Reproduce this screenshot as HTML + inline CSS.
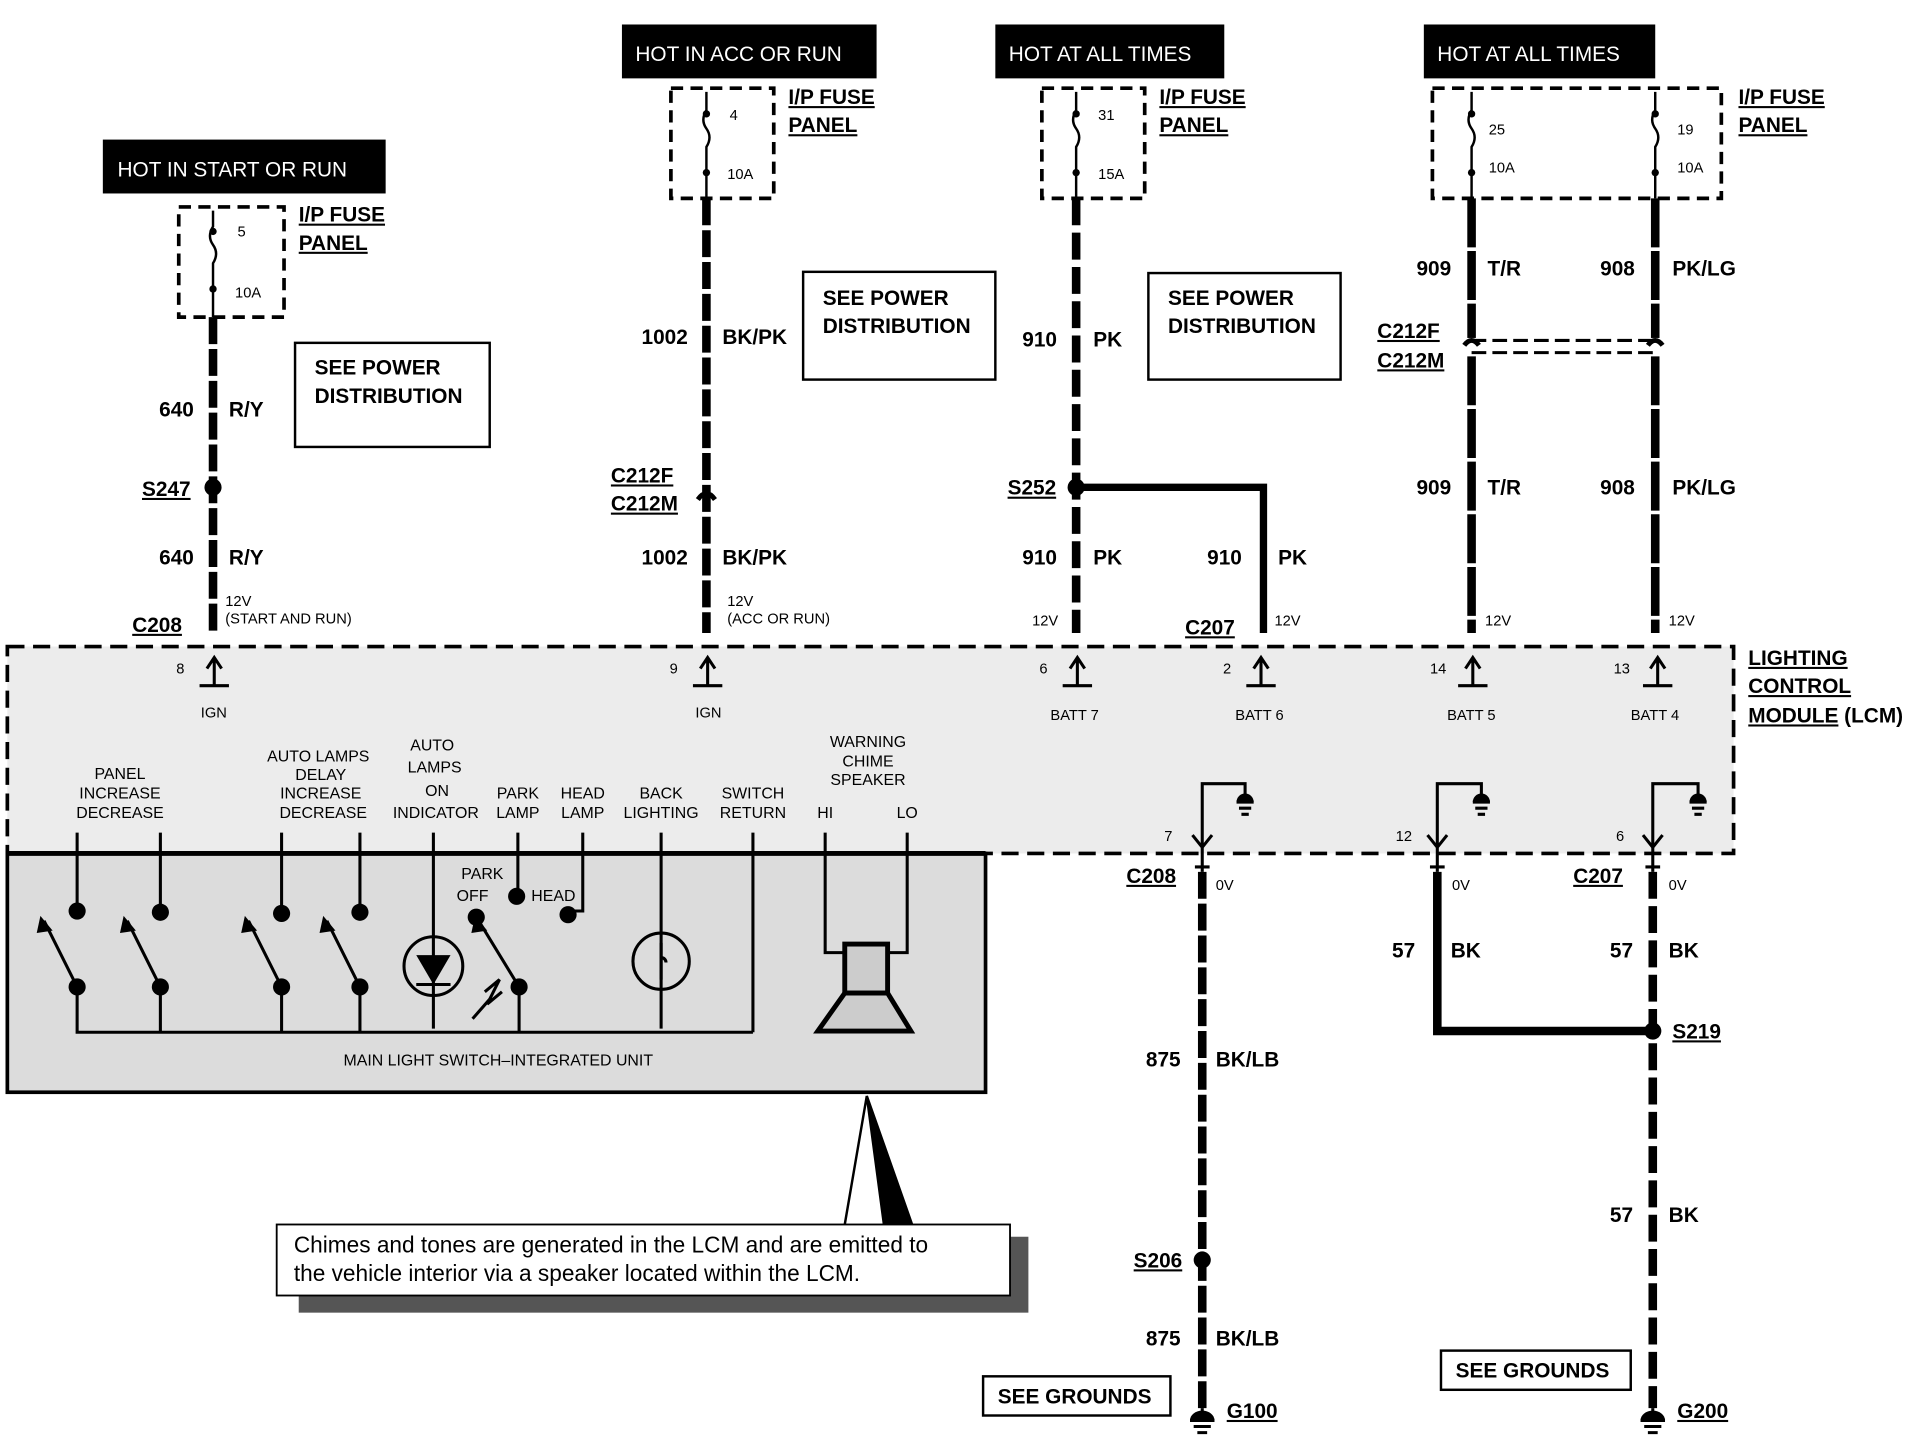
<!DOCTYPE html>
<html><head><meta charset="utf-8"><style>
html,body{margin:0;padding:0;background:#fff;}
svg{display:block;}
text{font-family:"Liberation Sans",Arial,sans-serif;font-weight:bold;fill:#000;}
.s{font-size:12px;font-weight:normal;}
.m{font-size:17px;}
.w{fill:#fff;font-size:17px;font-weight:normal;}
.u{text-decoration:underline;}
</style></head><body>
<svg width="1916" height="1440" viewBox="0 0 1565 1176" preserveAspectRatio="none" xmlns="http://www.w3.org/2000/svg">
<rect width="1565" height="1176" fill="#fff"/>
<!-- LCM area -->
<rect x="6" y="528" width="1410" height="169" fill="#ececec"/>
<rect x="6" y="528" width="1410" height="169" fill="none" stroke="#000" stroke-width="3" stroke-dasharray="14,7"/>
<rect x="6" y="697" width="799" height="195" fill="#dcdcdc" stroke="#000" stroke-width="3"/>
<line x1="6" y1="697" x2="805" y2="697" stroke="#000" stroke-width="4"/>

<!-- headers -->
<rect x="84" y="114" width="231" height="44" fill="#000"/><text class="w" x="96" y="144">HOT IN START OR RUN</text>
<rect x="508" y="20" width="208" height="44" fill="#000"/><text class="w" x="519" y="50">HOT IN ACC OR RUN</text>
<rect x="813" y="20" width="187" height="44" fill="#000"/><text class="w" x="824" y="50">HOT AT ALL TIMES</text>
<rect x="1163" y="20" width="189" height="44" fill="#000"/><text class="w" x="1174" y="50">HOT AT ALL TIMES</text>

<!-- fuse boxes -->
<g fill="none" stroke="#000" stroke-width="3" stroke-dasharray="10,6">
<rect x="146" y="169" width="86" height="90"/>
<rect x="548" y="72" width="84" height="90"/>
<rect x="851" y="72" width="84" height="90"/>
<rect x="1170" y="72" width="236" height="90"/>
</g>
<g class="m">
<text class="m u" x="244" y="181">I/P FUSE</text><text class="m u" x="244" y="204">PANEL</text>
<text class="m u" x="644" y="85">I/P FUSE</text><text class="m u" x="644" y="108">PANEL</text>
<text class="m u" x="947" y="85">I/P FUSE</text><text class="m u" x="947" y="108">PANEL</text>
<text class="m u" x="1420" y="85">I/P FUSE</text><text class="m u" x="1420" y="108">PANEL</text>
</g>
<!-- fuses -->
<g fill="none" stroke="#000" stroke-width="2">
<path d="M174 172 V185 q-5 8 0 15 q5 7 0 15 V259"/>
<path d="M577 75 V90 q-5 8 0 15 q5 7 0 15 V162"/>
<path d="M879 75 V90 q-5 8 0 15 q5 7 0 15 V162"/>
<path d="M1202 75 V90 q-5 8 0 15 q5 7 0 15 V162"/>
<path d="M1352 75 V90 q-5 8 0 15 q5 7 0 15 V162"/>
</g>
<g fill="#000"><circle cx="174" cy="189" r="3"/><circle cx="174" cy="236" r="3"/>
<circle cx="577" cy="93" r="3"/><circle cx="577" cy="141" r="3"/>
<circle cx="879" cy="93" r="3"/><circle cx="879" cy="141" r="3"/>
<circle cx="1202" cy="93" r="3"/><circle cx="1202" cy="141" r="3"/>
<circle cx="1352" cy="93" r="3"/><circle cx="1352" cy="141" r="3"/></g>
<g class="s">
<text class="s" x="194" y="193">5</text><text class="s" x="192" y="243">10A</text>
<text class="s" x="596" y="98">4</text><text class="s" x="594" y="146">10A</text>
<text class="s" x="897" y="98">31</text><text class="s" x="897" y="146">15A</text>
<text class="s" x="1216" y="110">25</text><text class="s" x="1216" y="141">10A</text>
<text class="s" x="1370" y="110">19</text><text class="s" x="1370" y="141">10A</text>
</g>

<!-- wires -->
<g stroke="#000" stroke-width="7" fill="none">
<line x1="174" y1="259" x2="174" y2="517" stroke-dasharray="22,4"/>
<line x1="577" y1="162" x2="577" y2="517" stroke-dasharray="22,4"/>
<line x1="879" y1="162" x2="879" y2="517" stroke-dasharray="22,6"/>
<line x1="1202" y1="162" x2="1202" y2="517" stroke-dasharray="40,3"/>
<line x1="1352" y1="162" x2="1352" y2="517" stroke-dasharray="40,3"/>
<path d="M879 398 H1032 V517" stroke-width="6"/>
<line x1="982" y1="712" x2="982" y2="1150" stroke-dasharray="22,4"/>
<path d="M1174 712 V842 H1350" stroke-width="7"/>
<line x1="1350" y1="712" x2="1350" y2="1150" stroke-dasharray="22,6"/>
</g>
<g fill="#fff" stroke="none"><rect x="1195" y="276" width="165" height="14"/></g>
<g stroke="#000" stroke-width="2.5" fill="none" stroke-dasharray="12,5">
<line x1="1202" y1="278" x2="1352" y2="278"/><line x1="1202" y1="288" x2="1352" y2="288"/>
</g>
<g stroke="#000" stroke-width="4" fill="none"><path d="M1196 282 q6-8 12 0"/><path d="M1346 282 q6-8 12 0"/><path d="M570 408 q7-10 14 0"/></g>
<g fill="#000"><circle cx="174" cy="398" r="7"/><circle cx="879" cy="398" r="7"/><circle cx="1350" cy="842" r="7"/><circle cx="982" cy="1029" r="7"/></g>

<!-- wire labels -->
<g class="m">
<text x="130" y="340" class="m">640</text><text x="187" y="340" class="m">R/Y</text>
<text x="130" y="461" class="m">640</text><text x="187" y="461" class="m">R/Y</text>
<text x="116" y="405" class="m u">S247</text>
<text x="524" y="281" class="m">1002</text><text x="590" y="281" class="m">BK/PK</text>
<text x="524" y="461" class="m">1002</text><text x="590" y="461" class="m">BK/PK</text>
<text x="499" y="394" class="m u">C212F</text><text x="499" y="417" class="m u">C212M</text>
<text x="835" y="283" class="m">910</text><text x="893" y="283" class="m">PK</text>
<text x="835" y="461" class="m">910</text><text x="893" y="461" class="m">PK</text>
<text x="986" y="461" class="m">910</text><text x="1044" y="461" class="m">PK</text>
<text x="823" y="404" class="m u">S252</text>
<text x="1157" y="225" class="m">909</text><text x="1215" y="225" class="m">T/R</text>
<text x="1307" y="225" class="m">908</text><text x="1366" y="225" class="m">PK/LG</text>
<text x="1157" y="404" class="m">909</text><text x="1215" y="404" class="m">T/R</text>
<text x="1307" y="404" class="m">908</text><text x="1366" y="404" class="m">PK/LG</text>
<text x="1125" y="276" class="m u">C212F</text><text x="1125" y="300" class="m u">C212M</text>
<text x="108" y="516" class="m u">C208</text>
<text x="968" y="518" class="m u">C207</text>
<text x="920" y="721" class="m u">C208</text>
<text x="1285" y="721" class="m u">C207</text>
<text x="1137" y="782" class="m">57</text><text x="1185" y="782" class="m">BK</text>
<text x="1315" y="782" class="m">57</text><text x="1363" y="782" class="m">BK</text>
<text x="1366" y="848" class="m u">S219</text>
<text x="1315" y="998" class="m">57</text><text x="1363" y="998" class="m">BK</text>
<text x="936" y="871" class="m">875</text><text x="993" y="871" class="m">BK/LB</text>
<text x="936" y="1099" class="m">875</text><text x="993" y="1099" class="m">BK/LB</text>
<text x="926" y="1035" class="m u">S206</text>
<text x="1002" y="1158" class="m u">G100</text>
<text x="1370" y="1158" class="m u">G200</text>
<text x="1428" y="543" class="m u">LIGHTING</text><text x="1428" y="566" class="m u">CONTROL</text>
<text x="1428" y="590" class="m"><tspan class="u" text-decoration="underline">MODULE</tspan> (LCM)</text>
</g>
<g class="s" style="font-size:12px">
<text class="s" x="184" y="495" font-weight="bold">12V</text><text class="s" x="184" y="509">(START AND RUN)</text>
<text class="s" x="594" y="495">12V</text><text class="s" x="594" y="509">(ACC OR RUN)</text>
<text class="s" x="843" y="511">12V</text><text class="s" x="1041" y="511">12V</text>
<text class="s" x="1213" y="511">12V</text><text class="s" x="1363" y="511">12V</text>
<text class="s" x="993" y="727">0V</text><text class="s" x="1186" y="727">0V</text><text class="s" x="1363" y="727">0V</text>
</g>

<!-- power dist boxes -->
<g fill="#fff" stroke="#000" stroke-width="2">
<rect x="241" y="280" width="159" height="85"/><rect x="656" y="222" width="157" height="88"/><rect x="938" y="223" width="157" height="87"/>
</g>
<text class="m" x="257" y="306">SEE POWER</text><text class="m" x="257" y="329">DISTRIBUTION</text>
<text class="m" x="672" y="249">SEE POWER</text><text class="m" x="672" y="272">DISTRIBUTION</text>
<text class="m" x="954" y="249">SEE POWER</text><text class="m" x="954" y="272">DISTRIBUTION</text>

<!-- LCM input pins -->
<g stroke="#000" stroke-width="2.5" fill="none">
<path d="M175 560 V538 M169 546 L175 537 L181 546 M163 560 H187"/>
<path d="M578 560 V538 M572 546 L578 537 L584 546 M566 560 H590"/>
<path d="M880 560 V538 M874 546 L880 537 L886 546 M868 560 H892"/>
<path d="M1030 560 V538 M1024 546 L1030 537 L1036 546 M1018 560 H1042"/>
<path d="M1203 560 V538 M1197 546 L1203 537 L1209 546 M1191 560 H1215"/>
<path d="M1354 560 V538 M1348 546 L1354 537 L1360 546 M1342 560 H1366"/>
</g>
<g class="s">
<text class="s" x="144" y="550">8</text><text class="s" x="164" y="586">IGN</text>
<text class="s" x="547" y="550">9</text><text class="s" x="568" y="586">IGN</text>
<text class="s" x="849" y="550">6</text><text class="s" x="858" y="588">BATT 7</text>
<text class="s" x="999" y="550">2</text><text class="s" x="1009" y="588">BATT 6</text>
<text class="s" x="1168" y="550">14</text><text class="s" x="1182" y="588">BATT 5</text>
<text class="s" x="1318" y="550">13</text><text class="s" x="1332" y="588">BATT 4</text>
<text class="s" x="951" y="687">7</text><text class="s" x="1140" y="687">12</text><text class="s" x="1320" y="687">6</text>
</g>
<!-- ground pins -->
<g stroke="#000" stroke-width="2.5" fill="none">
<path d="M982 712 V640 H1017 V652 M1010 655 H1024 M1012 660 H1022 M1014 665 H1020 M974 682 L982 692 L990 682 M976 708 H988"/>
<path d="M1174 712 V640 H1210 V652 M1203 655 H1217 M1205 660 H1215 M1207 665 H1213 M1166 682 L1174 692 L1182 682 M1168 708 H1180"/>
<path d="M1350 712 V640 H1387 V652 M1380 655 H1394 M1382 660 H1392 M1384 665 H1390 M1342 682 L1350 692 L1358 682 M1344 708 H1356"/>
<path d="M982 1150 V1160 M972 1160 H992 M975 1165 H989 M978 1170 H986"/>
<path d="M1350 1150 V1160 M1340 1160 H1360 M1343 1165 H1357 M1346 1170 H1354"/>
</g>
<g fill="#000"><path d="M1010 655 a7 7 0 0 1 14 0z"/><path d="M1203 655 a7 7 0 0 1 14 0z"/><path d="M1380 655 a7 7 0 0 1 14 0z"/><path d="M972 1160 a10 8 0 0 1 20 0z"/><path d="M1340 1160 a10 8 0 0 1 20 0z"/></g>

<!-- switch labels -->
<g style="font-size:13px;font-weight:normal">
<text class="s" x="98" y="636" text-anchor="middle" style="font-size:13px">PANEL</text>
<text class="s" x="98" y="652" text-anchor="middle" style="font-size:13px">INCREASE</text>
<text class="s" x="98" y="668" text-anchor="middle" style="font-size:13px">DECREASE</text>
<text class="s" x="260" y="622" text-anchor="middle" style="font-size:13px">AUTO LAMPS</text>
<text class="s" x="262" y="637" text-anchor="middle" style="font-size:13px">DELAY</text>
<text class="s" x="262" y="652" text-anchor="middle" style="font-size:13px">INCREASE</text>
<text class="s" x="264" y="668" text-anchor="middle" style="font-size:13px">DECREASE</text>
<text class="s" x="353" y="613" text-anchor="middle" style="font-size:13px">AUTO</text>
<text class="s" x="355" y="631" text-anchor="middle" style="font-size:13px">LAMPS</text>
<text class="s" x="357" y="650" text-anchor="middle" style="font-size:13px">ON</text>
<text class="s" x="356" y="668" text-anchor="middle" style="font-size:13px">INDICATOR</text>
<text class="s" x="423" y="652" text-anchor="middle" style="font-size:13px">PARK</text>
<text class="s" x="423" y="668" text-anchor="middle" style="font-size:13px">LAMP</text>
<text class="s" x="476" y="652" text-anchor="middle" style="font-size:13px">HEAD</text>
<text class="s" x="476" y="668" text-anchor="middle" style="font-size:13px">LAMP</text>
<text class="s" x="540" y="652" text-anchor="middle" style="font-size:13px">BACK</text>
<text class="s" x="540" y="668" text-anchor="middle" style="font-size:13px">LIGHTING</text>
<text class="s" x="615" y="652" text-anchor="middle" style="font-size:13px">SWITCH</text>
<text class="s" x="615" y="668" text-anchor="middle" style="font-size:13px">RETURN</text>
<text class="s" x="709" y="610" text-anchor="middle" style="font-size:13px">WARNING</text>
<text class="s" x="709" y="626" text-anchor="middle" style="font-size:13px">CHIME</text>
<text class="s" x="709" y="641" text-anchor="middle" style="font-size:13px">SPEAKER</text>
<text class="s" x="674" y="668" text-anchor="middle" style="font-size:13px">HI</text>
<text class="s" x="741" y="668" text-anchor="middle" style="font-size:13px">LO</text>
<text class="s" x="394" y="718" text-anchor="middle" style="font-size:13px">PARK</text>
<text class="s" x="386" y="736" style="font-size:13px" text-anchor="middle">OFF</text>
<text class="s" x="452" y="736" style="font-size:13px" text-anchor="middle">HEAD</text>
<text class="s" x="407" y="870" text-anchor="middle" style="font-size:13px">MAIN LIGHT SWITCH–INTEGRATED UNIT</text>
</g>
<!-- switch internals -->
<g stroke="#000" stroke-width="2.5" fill="none">
<path d="M63 680 V744 M131 680 V744 M230 680 V746 M294 680 V744 M354 680 V840 M423 680 V732 M476 680 V744 H466 M540 680 V840 M615 680 V843 M674 680 V778 H690 M741 680 V778 H725"/>
<path d="M63 806 V843 H615 M131 806 V843 M230 806 V843 M294 806 V843 M424 806 V843"/>
<path d="M63 806 L36 752 M131 806 L104 752 M230 806 L203 752 M294 806 L267 752 M424 806 L391 752"/>
<circle cx="354" cy="789" r="24"/><circle cx="540" cy="785" r="23"/>
<path d="M340 804 H368"/>
<path d="M396 810 L408 800 L398 820 L410 810 M386 832 L400 816"/>
</g>
<g fill="#000">
<circle cx="63" cy="744" r="7"/><circle cx="131" cy="745" r="7"/><circle cx="230" cy="746" r="7"/><circle cx="294" cy="745" r="7"/>
<circle cx="63" cy="806" r="7"/><circle cx="131" cy="806" r="7"/><circle cx="230" cy="806" r="7"/><circle cx="294" cy="806" r="7"/><circle cx="424" cy="806" r="7"/>
<circle cx="389" cy="749" r="7"/><circle cx="422" cy="732" r="7"/><circle cx="464" cy="747" r="7"/>
<path d="M340 780 H368 L354 804 Z"/>
<path d="M33 748 L43 760 L30 762Z"/><path d="M101 748 L111 760 L98 762Z"/><path d="M200 748 L210 760 L197 762Z"/><path d="M264 748 L274 760 L261 762Z"/><path d="M388 748 L398 760 L385 762Z"/>
</g>
<rect x="690" y="771" width="35" height="40" fill="#ccc" stroke="#000" stroke-width="4"/>
<path d="M690 811 H725 L744 842 H668 Z" fill="#ccc" stroke="#000" stroke-width="4"/>
<path d="M540 770 V800 M540 782 a4 4 0 0 1 4 4" stroke="#000" stroke-width="2.5" fill="none"/>

<!-- callout -->
<path d="M708 895 L690 1000 M708 895 L745 1000 L722 1000 Z" stroke="#000" stroke-width="2" fill="#000"/>
<rect x="244" y="1010" width="596" height="62" fill="#555"/>
<rect x="226" y="1000" width="599" height="58" fill="#fff" stroke="#000" stroke-width="1.5"/>
<text x="240" y="1023" style="font-size:18.5px;font-weight:normal">Chimes and tones are generated in the LCM and are emitted to</text>
<text x="240" y="1046" style="font-size:18.5px;font-weight:normal">the vehicle interior via a speaker located within the LCM.</text>

<rect x="803" y="1124" width="153" height="32" fill="#fff" stroke="#000" stroke-width="2"/>
<text class="m" x="815" y="1146">SEE GROUNDS</text>
<rect x="1177" y="1103" width="155" height="32" fill="#fff" stroke="#000" stroke-width="2"/>
<text class="m" x="1189" y="1125">SEE GROUNDS</text>
</svg>
</body></html>
